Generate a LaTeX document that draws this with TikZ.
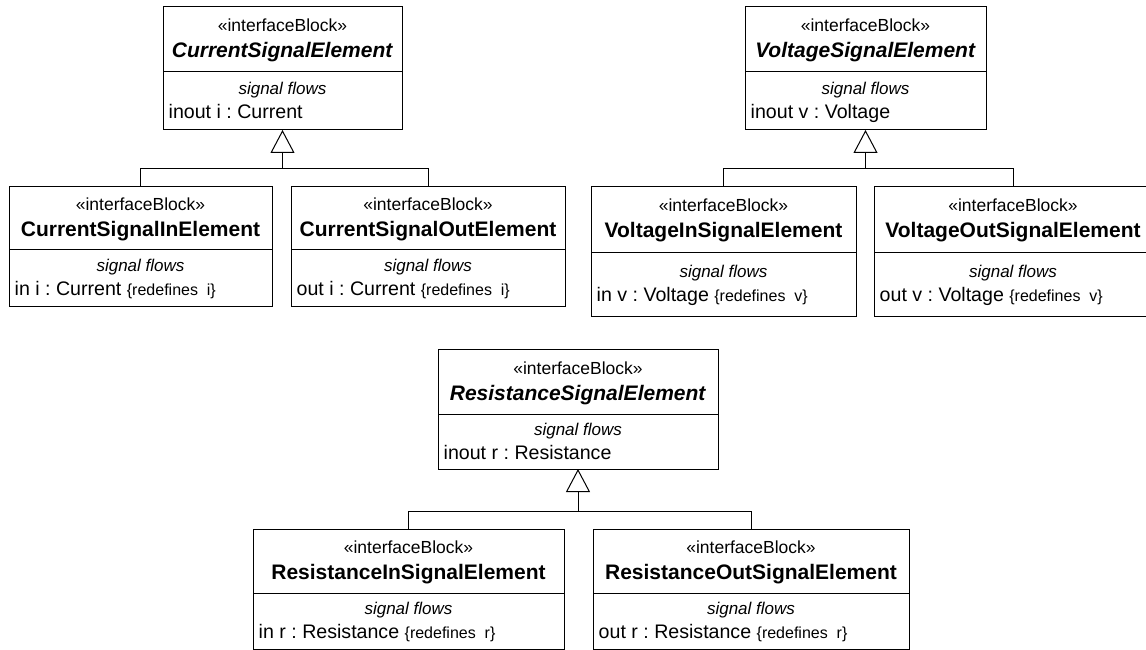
\documentclass[tikz,border=0pt]{standalone}
\usepackage{fontspec}
\setmainfont{Liberation Sans}
\usetikzlibrary{arrows.meta}
\frenchspacing
\tikzset{
  ublock/.style={draw=black, line width=1pt, inner sep=0pt, outer sep=0pt, fill=white},
  uline/.style={draw=black, line width=1pt},
  stereo/.style={anchor=base, inner sep=0pt, font=\fontsize{17.5}{20}\selectfont},
  blkname/.style={anchor=base, inner sep=0pt, font=\fontsize{21}{24}\selectfont\bfseries},
  sflows/.style={anchor=base, inner sep=0pt, font=\fontsize{17}{20}\selectfont\itshape},
  attr/.style={anchor=base west, inner sep=0pt, font=\fontsize{19.6}{22}\selectfont\frenchspacing},
  conn/.style={draw=black, line width=1pt},
  gen/.style={conn, -{Triangle[open, width=24pt, length=23pt]}},
}
\newcommand\umlredef[1]{{\fontsize{16}{18}\selectfont\{redefines\ \ #1\}}}
% #1 name, #2 x1, #3 y1, #4 x2, #5 y2, #6 ysep, #7 title, #8 attribute
\newcommand\umlblock[8]{%
  \node[ublock, minimum width={#4-#2}, minimum height={#5-#3}] (#1) at ({(#2+#4)/2},{(#3+#5)/2}) {};
  \draw[uline] (#1.west |- 0,#6) -- (#1.east |- 0,#6);
  \node[stereo] (#1-st) at ({(#2+#4)/2},{(#3+#6)/2-7.5}) {«interfaceBlock»};
  \node[blkname] (#1-nm) at ({(#2+#4)/2},{(#3+#6)/2+18.5}) {#7};
  \node[sflows] (#1-sf) at ({(#2+#4)/2},{(#6+#5)/2-6.5}) {signal flows};
  \node[attr] (#1-at) at ({#2+5.5},{(#6+#5)/2+17.5}) {#8};
}
\begin{document}
\begin{tikzpicture}[x=1pt,y=-1pt]
\useasboundingbox (0,0) rectangle (1146,650);
% Current
\umlblock{cs}{163}{7}{402}{130}{72}{\textit{CurrentSignalElement}}{inout i : Current}
\umlblock{cin}{9}{186}{272}{306}{249}{CurrentSignalInElement}{in i : Current \umlredef{i}}
\umlblock{cout}{291}{186}{565}{306}{249}{CurrentSignalOutElement}{out i : Current \umlredef{i}}
% Voltage
\umlblock{vs}{745}{7}{986}{130}{72}{\textit{VoltageSignalElement}}{inout v : Voltage}
\umlblock{vin}{591}{186}{856}{316}{252}{VoltageInSignalElement}{in v : Voltage \umlredef{v}}
\umlblock{vout}{874}{186}{1152}{316}{252}{VoltageOutSignalElement}{out v : Voltage \umlredef{v}}
% Resistance
\umlblock{rs}{438}{349}{718}{469}{414}{\textit{ResistanceSignalElement}}{inout r : Resistance}
\umlblock{rin}{253}{529}{564}{649}{593}{ResistanceInSignalElement}{in r : Resistance \umlredef{r}}
\umlblock{rout}{593}{529}{909}{649}{593}{ResistanceOutSignalElement}{out r : Resistance \umlredef{r}}
% generalizations
\coordinate (cj) at (cs.south |- 0,169);
\draw[gen] (cj) -- (cs.south);
\draw[conn] (cin.north) |- (cj);
\draw[conn] (cout.north) |- (cj);
\coordinate (vj) at (vs.south |- 0,169);
\draw[gen] (vj) -- (vs.south);
\draw[conn] (vin.north) |- (vj);
\draw[conn] (vout.north) |- (vj);
\coordinate (rj) at (rs.south |- 0,511);
\draw[gen] (rj) -- (rs.south);
\draw[conn] (rin.north) |- (rj);
\draw[conn] (rout.north) |- (rj);
\end{tikzpicture}
\end{document}
